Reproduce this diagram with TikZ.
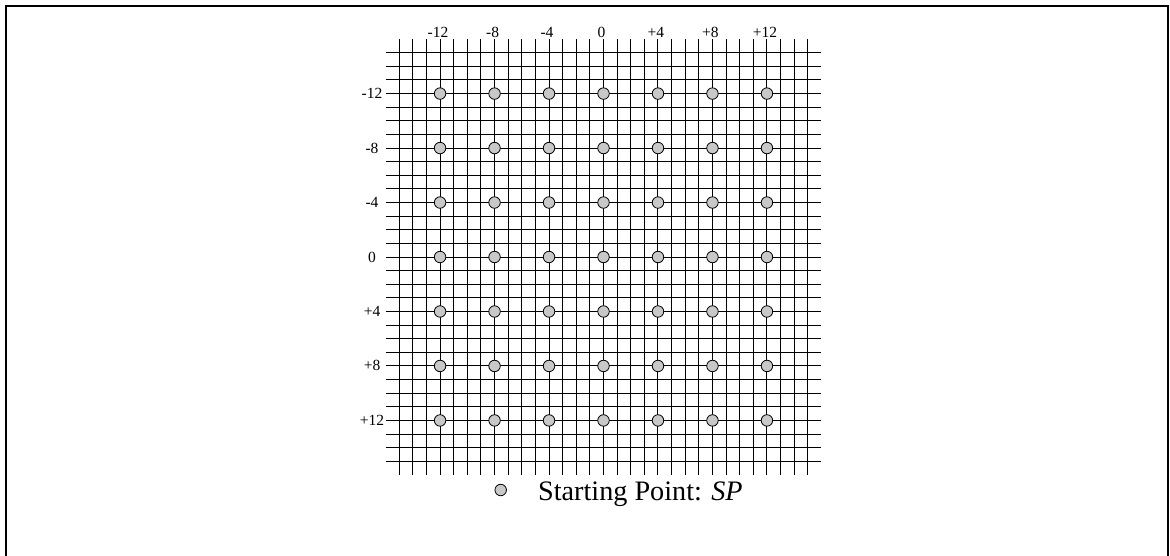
\documentclass[tikz,border=0pt]{standalone}
\usepackage{fontspec}
\setmainfont{Liberation Serif}
\begin{document}
\begin{tikzpicture}[x=1pt,y=-1pt,
  gridline/.style={line width=1pt,black},
  spdot/.style={circle,draw=black,fill={rgb,255:red,200;green,200;blue,200},line width=0.8pt,minimum size=11.5pt,inner sep=0pt},
  axislabel/.style={font=\fontsize{15.5}{16}\selectfont,inner sep=0pt},
  frameline/.style={line width=2.5pt,black}]
\useasboundingbox (0,0) rectangle (1170,555);
\draw[frameline] (6,570) -- (6,6) -- (1168,6) -- (1168,570);
\def\u{13.62}
\def\cx{603.5}
\def\cy{257}
\foreach \i in {-15,...,15}
  \draw[gridline] ({\cx+\i*\u},{\cy-16*\u}) -- ({\cx+\i*\u},{\cy+16*\u});
\foreach \j in {-15,...,15}
  \draw[gridline] ({\cx-16*\u},{\cy+\j*\u}) -- ({\cx+16*\u},{\cy+\j*\u});
\foreach \i [count=\ci] in {-12,-8,...,12}
  \foreach \j [count=\cj] in {-12,-8,...,12}
    \node[spdot] (sp\ci-\cj) at ({\cx+\i*\u},{\cy+\j*\u}) {};
\foreach \i/\t [count=\ci] in {-12/-12,-8/-8,-4/-4,0/0,4/+4,8/+8,12/+12}{
  \node[axislabel,anchor=base] (top\ci) at ({\cx+\i*\u-2},37.3) {\t};
  \node[axislabel,anchor=base] (left\ci) at (372,{\cy+\i*\u+5}) {\t};
}
\node[spdot] (legdot) at (500.7,490) {};
\node[anchor=base west,font=\fontsize{28.2}{30}\selectfont,inner sep=0pt] (legtext) at (538,500) {Starting Point: \textit{SP}};
\end{tikzpicture}
\end{document}
